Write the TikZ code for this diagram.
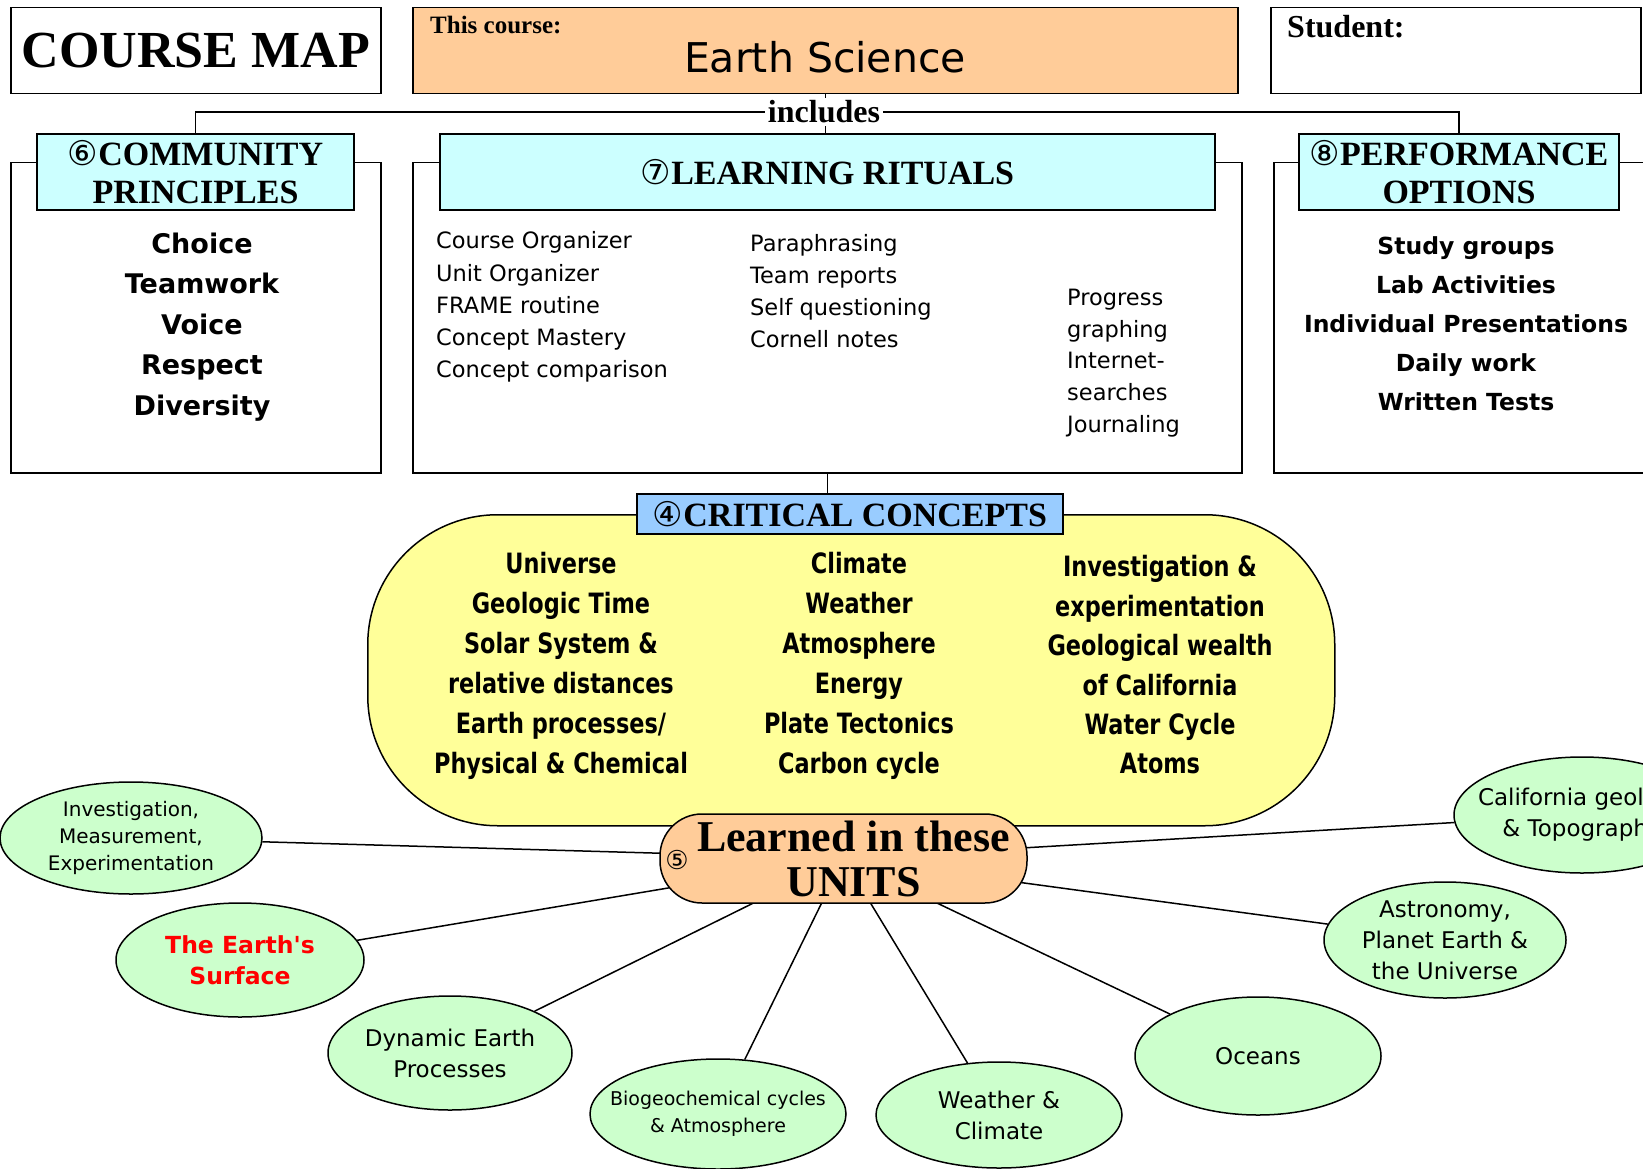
\documentclass[tikz,border=0pt]{standalone}
\usepackage{fontspec}
\setmainfont{Liberation Serif}
\newfontfamily\comic{DejaVu Sans}
\newfontfamily\comicnarrow{DejaVu Sans}[FakeStretch=0.8]
\usetikzlibrary{shapes.geometric,backgrounds}

\definecolor{coursebg}{HTML}{FFCC99}
\definecolor{headbg}{HTML}{CCFFFF}
\definecolor{critblue}{HTML}{99CCFF}
\definecolor{conceptbg}{HTML}{FFFF99}
\definecolor{unitbg}{HTML}{CCFFCC}

\newcommand\cnum[1]{{\comic\mdseries #1}}

\tikzset{
  frame/.style={draw, line width=1.5pt, anchor=north west, inner sep=0pt},
  headbox/.style={draw, line width=1.5pt, fill=headbg, align=center, inner sep=0pt,
    font=\bfseries\fontsize{34}{38}\selectfont},
  unit/.style={ellipse, draw, line width=1.5pt, fill=unitbg, align=center, inner sep=0pt,
    font=\comic\fontsize{23}{31}\selectfont},
  link/.style={line width=1.5pt},
}

\begin{document}
\begin{tikzpicture}[x=1pt,y=-1pt]
\useasboundingbox (0,0) rectangle (1643,1169);
\begin{pgfonlayer}{background}
  \fill[white] (0,0) rectangle (1643,1169);
\end{pgfonlayer}
\clip (0,0) rectangle (1643,1169);

% top row
\node[frame, minimum width=370pt, minimum height=86pt,
  font=\bfseries\fontsize{52}{52}\selectfont] (title) at (10,7) {COURSE MAP};
\node[frame, fill=coursebg, minimum width=825pt, minimum height=86pt] (course) at (412,7) {};
\node[anchor=base west, inner sep=0pt, font=\bfseries\fontsize{25}{25}\selectfont] (thiscourse) at (430,34) {This course:};
\node[anchor=base, inner sep=0pt, font=\comic\fontsize{41}{41}\selectfont] (coursename) at (825,73) {Earth Science};
\node[frame, minimum width=370pt, minimum height=86pt] (student) at (1270,7) {};
\node[anchor=base west, inner sep=0pt, font=\bfseries\fontsize{32}{32}\selectfont] (studentlbl) at (1287,38) {Student:};

% the three boxes
\node[frame, minimum width=370pt, minimum height=310pt] (commbox) at (10,162) {};
\node[headbox, minimum width=317pt, minimum height=76pt] (commhead) at (195.5,172) {\cnum{⑥}COMMUNITY\\PRINCIPLES};
\node[align=center, font=\comic\bfseries\fontsize{27}{40.5}\selectfont] (commlist) at (202,327)
  {Choice\\Teamwork\\Voice\\Respect\\Diversity};

\node[frame, minimum width=829pt, minimum height=310pt] (ritbox) at (412,162) {};
\node[headbox, minimum width=775pt, minimum height=76pt] (rithead) at (827.5,172) {\cnum{⑦}LEARNING RITUALS};
\node[anchor=west, align=left, inner sep=0pt, font=\comic\fontsize{22.5}{32.2}\selectfont] (ritcolA) at (436,307)
  {Course Organizer\\Unit Organizer\\FRAME routine\\Concept Mastery\\Concept comparison};
\node[anchor=west, align=left, inner sep=0pt, font=\comic\fontsize{22.5}{32.2}\selectfont] (ritcolB) at (750,291)
  {Paraphrasing\\Team reports\\Self questioning\\Cornell notes};
\node[anchor=west, align=left, inner sep=0pt, font=\comic\fontsize{22.5}{31.7}\selectfont] (ritcolC) at (1067,363)
  {Progress\\graphing\\Internet-\\searches\\Journaling};

\node[frame, minimum width=400pt, minimum height=310pt] (perfbox) at (1273,162) {};
\node[headbox, minimum width=320pt, minimum height=76pt] (perfhead) at (1459,172) {\cnum{⑧}PERFORMANCE\\OPTIONS};
\node[align=center, font=\comic\bfseries\fontsize{23.5}{39}\selectfont] (perflist) at (1466,324)
  {Study groups\\Lab Activities\\Individual Presentations\\Daily work\\Written Tests};

% includes
\draw[link] (course.south) -- (course.south |- rithead.north);
\node[fill=white, inner sep=3pt, font=\bfseries\fontsize{32}{32}\selectfont] (incl) at (824,112) {includes};
\draw[link] (incl.west) -| (commhead.north);
\draw[link] (incl.east) -| (perfhead.north);

% critical concepts
\node[frame, fill=conceptbg, rounded corners=130pt, minimum width=967pt, minimum height=311pt] (critbg) at (367,514) {};
\node[draw, line width=1.5pt, fill=critblue, minimum width=426pt, minimum height=40pt, inner sep=0pt,
  font=\bfseries\fontsize{34}{34}\selectfont] (crithead) at (850,514) {\cnum{④}CRITICAL CONCEPTS};
\draw[link] (ritbox.south) -- (ritbox.south |- crithead.north);
\node[align=center, font=\comicnarrow\bfseries\fontsize{28}{40}\selectfont] (conA) at (561,666)
  {Universe\\Geologic Time\\Solar System \&\\relative distances\\Earth processes/\\Physical \& Chemical};
\node[align=center, font=\comicnarrow\bfseries\fontsize{28}{40}\selectfont] (conB) at (859,666)
  {Climate\\Weather\\Atmosphere\\Energy\\Plate Tectonics\\Carbon cycle};
\node[align=center, font=\comicnarrow\bfseries\fontsize{28}{39.4}\selectfont] (conC) at (1160,665)
  {Investigation \&\\experimentation\\Geological wealth\\of California\\Water Cycle\\Atoms};

% units
\node[draw, line width=1.5pt, fill=coursebg, rounded corners=42pt, minimum width=367pt, minimum height=89pt,
  inner sep=0pt, align=center, font=\bfseries\fontsize{44}{45}\selectfont] (units) at (843.5,858.5)
  {\hspace*{20pt}Learned in these\\\hspace*{20pt}UNITS};
\node[inner sep=0pt, font=\comic\fontsize{26}{26}\selectfont] (five) at (677,860) {⑤};

\node[unit, minimum width=262pt, minimum height=112pt, font=\comic\fontsize{20}{27}\selectfont] (uInv) at (131,838)
  {Investigation,\\Measurement,\\Experimentation};
\node[unit, minimum width=248pt, minimum height=114pt, text=red, font=\comic\bfseries\fontsize{23.5}{31}\selectfont] (uSurf) at (240,960)
  {The Earth's\\Surface};
\node[unit, minimum width=244pt, minimum height=114pt] (uDyn) at (450,1053) {Dynamic Earth\\Processes};
\node[unit, minimum width=256pt, minimum height=110pt, inner xsep=-22pt, font=\comic\fontsize{19}{27}\selectfont] (uBio) at (718,1114)
  {Biogeochemical cycles\\\& Atmosphere};
\node[unit, minimum width=246pt, minimum height=106pt] (uWea) at (999,1115) {Weather \&\\Climate};
\node[unit, minimum width=246pt, minimum height=118pt] (uOce) at (1258,1056) {Oceans};
\node[unit, minimum width=242pt, minimum height=116pt, inner sep=-5pt] (uAst) at (1445,940)
  {Astronomy,\\Planet Earth \&\\the Universe};
\node[unit, minimum width=256pt, minimum height=116pt, inner xsep=-30pt] (uCal) at (1582,815)
  {California geology\\\& Topography};

\begin{pgfonlayer}{background}
  \foreach \u in {uInv,uSurf,uDyn,uBio,uWea,uOce,uAst,uCal}
    \draw[link] (units.center) -- (\u);
\end{pgfonlayer}
\end{tikzpicture}
\end{document}
